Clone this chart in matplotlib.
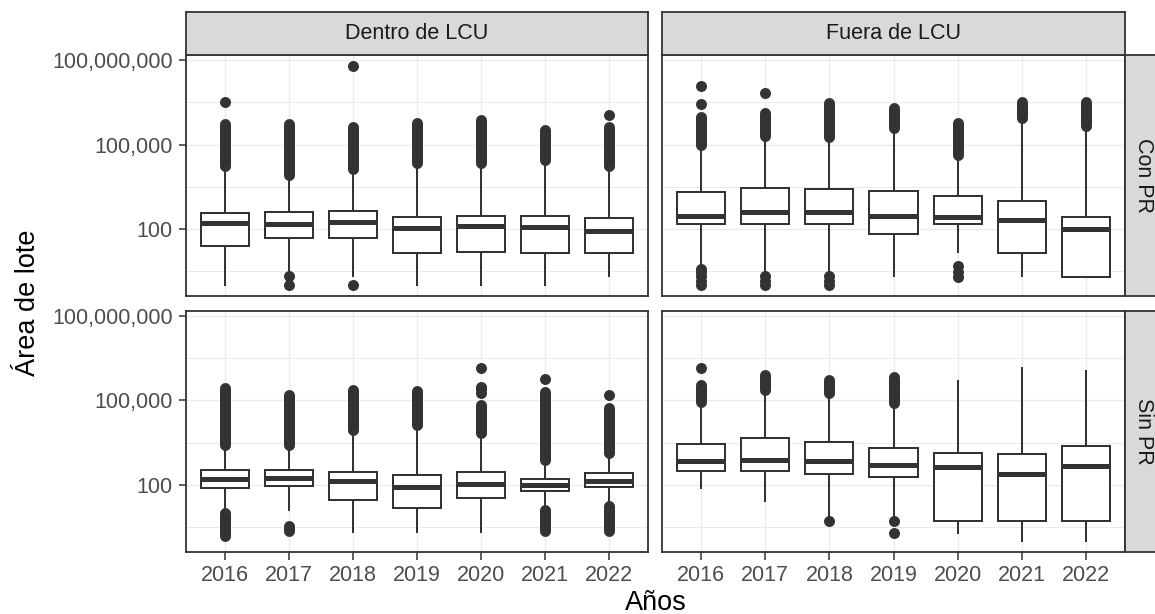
import matplotlib
matplotlib.use("Agg")
import matplotlib.pyplot as plt
from matplotlib.ticker import FixedLocator, FuncFormatter, NullFormatter

plt.rcParams['font.family'] = ['Liberation Sans', 'DejaVu Sans']

years = ['2016', '2017', '2018', '2019', '2020', '2021', '2022']
col_labels = ['Dentro de LCU', 'Fuera de LCU']
row_labels = ['Con PR', 'Sin PR']
y_breaks = [1e2, 1e5, 1e8]
y_minor = [10 ** 0.5, 10 ** 3.5, 10 ** 6.5]

# ---- Dentro de LCU / Con PR ----
dc_q1 = [24, 47, 47, 14, 15, 14, 14]
dc_med = [163, 151, 173, 111, 124, 118, 87]
dc_q3 = [370, 400, 424, 259, 282, 297, 245]
dc_lo = [1, 3.2, 2.1, 1, 1, 1, 2.1]
dc_hi = [12100, 5600, 8500, 14600, 14600, 19200, 12100]
dc_dense = [[(18000, 530000)], [(8500, 530000)], [(13000, 440000)], [(22000, 575000)],
            [(22000, 760000)], [(29000, 330000)], [(18000, 440000)]]
dc_out = [[3.4e6], [2.1, 1], [6.3e7, 1], [], [], [], [1.15e6]]

# ---- Fuera de LCU / Con PR ----
fc_q1 = [155, 155, 155, 66, 155, 14, 2.0]
fc_med = [297, 400, 400, 297, 267, 214, 95]
fc_q3 = [2000, 2850, 2700, 2170, 1520, 1010, 259]
fc_lo = [4.7, 2.8, 2.8, 2.1, 15, 2.1, 2.0]
fc_hi = [65000, 130000, 120000, 256000, 29000, 580000, 310000]
fc_dense = [[(100000, 1.0e6)], [(195000, 1.3e6)], [(180000, 3.0e6)], [(380000, 1.95e6)],
            [(44000, 575000)], [(870000, 3.4e6)], [(470000, 3.2e6)]]
fc_out = [[2.8e6, 1.2e7, 3.6, 2.8, 2.1, 1.4, 1], [7.1e6, 2.1, 1.4, 1], [2.1, 1.4, 1],
          [], [4.7, 3.0, 2.0], [], []]

# ---- Dentro de LCU / Sin PR ----
ds_q1 = [76, 92, 29, 15, 34, 58, 83]
ds_med = [159, 173, 131, 83, 106, 100, 139]
ds_q3 = [323, 340, 282, 226, 282, 163, 259]
ds_lo = [15, 13, 2.1, 2.1, 2.1, 19.5, 26]
ds_hi = [1750, 1750, 6000, 9000, 4500, 510, 885]
ds_dense = [[(2600, 270000), (1.5, 9.8)], [(2600, 156000), (2.2, 3.3)], [(8900, 235000)],
            [(13500, 215000)], [(6900, 69000)], [(780, 204000), (2.2, 13)],
            [(1350, 52000), (2.2, 17)]]
ds_out = [[], [], [], [], [180000, 250000, 310000, 1.39e6], [580000], [157000]]

# ---- Fuera de LCU / Sin PR ----
fs_q1 = [297, 314, 245, 182, 5.0, 5.0, 5.0]
fs_med = [711, 771, 711, 485, 412, 245, 447]
fs_q3 = [2850, 4540, 3270, 2000, 1330, 1220, 2420]
fs_lo = [76, 26, 7, 7.5, 1.9, 1, 1]
fs_hi = [60000, 157000, 120000, 53000, 490000, 1.39e6, 1.15e6]
fs_dense = [[(91000, 355000)], [(237000, 800000)], [(180000, 530000)], [(80000, 700000)],
            [], [], []]
fs_out = [[1.39e6], [], [5.0], [5.0, 1.9], [], [], []]

panels = {
    (0, 0): (dc_q1, dc_med, dc_q3, dc_lo, dc_hi, dc_dense, dc_out),
    (0, 1): (fc_q1, fc_med, fc_q3, fc_lo, fc_hi, fc_dense, fc_out),
    (1, 0): (ds_q1, ds_med, ds_q3, ds_lo, ds_hi, ds_dense, ds_out),
    (1, 1): (fs_q1, fs_med, fs_q3, fs_lo, fs_hi, fs_dense, fs_out),
}

W, H = 1155, 614
fig = plt.figure(figsize=(W / 100, H / 100), dpi=100)


def rect(x0, y0, x1, y1):
    return [x0 / W, 1 - y1 / H, (x1 - x0) / W, (y1 - y0) / H]


cols = [(186.4, 647.8), (662.5, 1124.6)]
rows = [(55, 296), (311, 551.7)]
dark = '#333333'
grid_c = '#EBEBEB'
px = 0.72  # points per pixel at 100 dpi
lw_box = 2.0 * px
lw_med = 5.0 * px
dot = 11 * px
tick_fs = 15.5
title_fs = 19.5
positions = list(range(1, len(years) + 1))

for (r, c), (q1, med, q3, lo, hi, dense, out) in panels.items():
    ax = fig.add_axes(rect(cols[c][0], rows[r][0], cols[c][1], rows[r][1]))
    ax.set_yscale('log')
    ax.set_ylim(10 ** -0.39, 10 ** 8.19)
    ax.set_xlim(0.4, len(years) + 0.6)
    ax.set_facecolor('white')
    ax.yaxis.set_major_locator(FixedLocator(y_breaks))
    ax.yaxis.set_minor_locator(FixedLocator(y_minor))
    ax.yaxis.set_minor_formatter(NullFormatter())
    ax.xaxis.set_major_locator(FixedLocator(positions))
    ax.grid(True, which='major', color=grid_c, lw=1.0, zorder=0)
    ax.grid(True, which='minor', axis='y', color=grid_c, lw=0.7, zorder=0)
    ax.set_axisbelow(True)

    stats = []
    for i in range(len(years)):
        stats.append(dict(med=med[i], q1=q1[i], q3=q3[i], whislo=lo[i], whishi=hi[i],
                          fliers=out[i]))
    ax.bxp(stats, positions=positions, widths=0.75, patch_artist=True, showcaps=False,
           manage_ticks=False,
           boxprops=dict(facecolor='white', edgecolor=dark, linewidth=lw_box),
           whiskerprops=dict(color=dark, linewidth=lw_box),
           medianprops=dict(color=dark, linewidth=lw_med, solid_capstyle='butt'),
           flierprops=dict(marker='o', markerfacecolor=dark, markeredgewidth=0,
                           markersize=dot, linestyle='none'))
    for i, bands in enumerate(dense):
        for (b0, b1) in bands:
            ax.plot([positions[i], positions[i]], [b0, b1], color=dark, lw=dot,
                    solid_capstyle='round', zorder=3)

    for s in ax.spines.values():
        s.set_color(dark)
        s.set_linewidth(1.3)
        s.set_zorder(5)
    ax.tick_params(which='major', length=7.5 * px, width=1.1, color=dark,
                   labelsize=tick_fs, labelcolor='#4D4D4D', pad=4.5)
    ax.tick_params(which='minor', length=0)
    if c == 0:
        ax.yaxis.set_major_formatter(FuncFormatter(lambda v, p: f"{v:,.0f}"))
    else:
        ax.tick_params(axis='y', which='major', left=False, labelleft=False)
    if r == 1:
        ax.set_xticklabels(years)
    else:
        ax.tick_params(axis='x', bottom=False, labelbottom=False)

# strips
for c, lab in enumerate(col_labels):
    sa = fig.add_axes(rect(cols[c][0], 12.3, cols[c][1], 55))
    sa.set_facecolor('#D9D9D9')
    sa.set_xticks([]); sa.set_yticks([])
    for s in sa.spines.values():
        s.set_color(dark); s.set_linewidth(1.3)
    sa.text(0.5, 0.5, lab, transform=sa.transAxes, ha='center', va='center',
            fontsize=tick_fs, color='#1A1A1A')

for r, lab in enumerate(row_labels):
    sa = fig.add_axes(rect(1124.6, rows[r][0], 1167, rows[r][1]))
    sa.set_facecolor('#D9D9D9')
    sa.set_xticks([]); sa.set_yticks([])
    for s in sa.spines.values():
        s.set_color(dark); s.set_linewidth(1.3)
    sa.text((1143.5 - 1124.6) / (1167 - 1124.6), 0.5, lab, transform=sa.transAxes,
            ha='center', va='center', rotation=-90, fontsize=tick_fs, color='#1A1A1A')

fig.text(655.5 / W, 1 - 609.5 / H, 'Años', ha='center', va='baseline',
         fontsize=title_fs, color='black')
fig.text(28 / W, 1 - 303 / H, 'Área de lote', ha='center', va='center', rotation=90,
         fontsize=title_fs, color='black')

fig.savefig('out.png', dpi=100, facecolor='white')
